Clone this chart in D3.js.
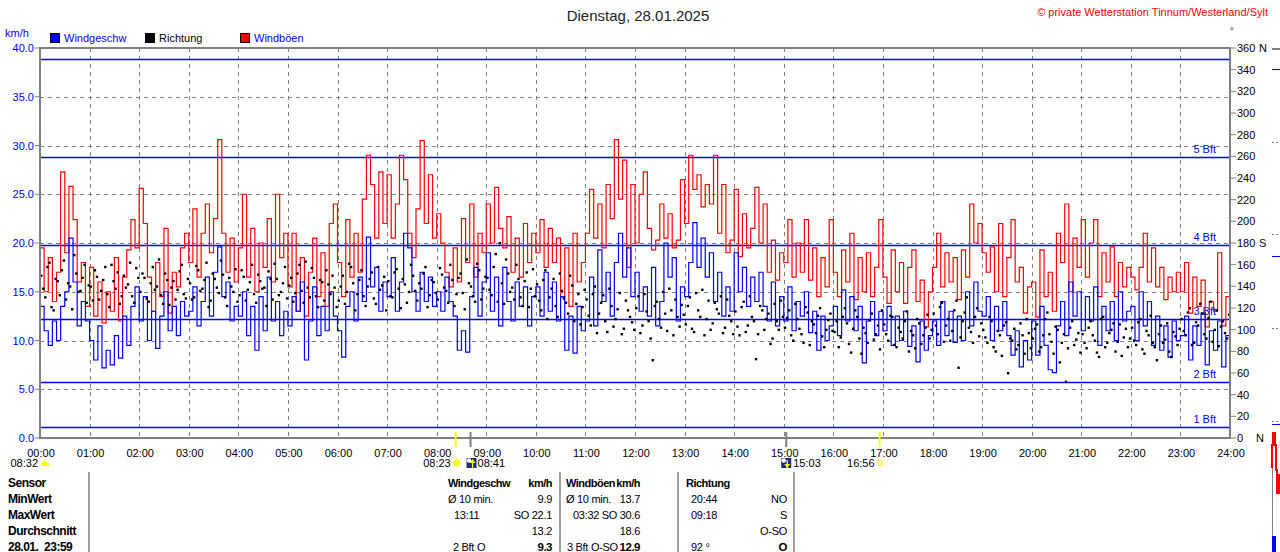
<!DOCTYPE html>
<html>
<head>
<meta charset="utf-8">
<title>Wind 28.01.2025</title>
<script src="https://cdn.jsdelivr.net/npm/d3@7"></script>
<style>
html, body { margin: 0; padding: 0; background: #fff; overflow: hidden; }
svg { display: block; font-family: "Liberation Sans", Arial, sans-serif; font-size: 11px; }
.tbl text { letter-spacing: -0.3px; }
.tbl text.b { letter-spacing: -0.5px; }
</style>
</head>
<body>
<div id="chart"></div>
<script>
// 5-minute samples, 00:00 .. 23:55 (12 per row = 1 hour)
const windSpeed = [
  13.5, 11.0, 9.5, 12.0, 10.0, 13.5, 15.0, 20.5, 16.0, 11.5, 14.0, 12.0,
  10.0, 8.0, 11.5, 7.2, 9.0, 7.5, 10.5, 8.2, 12.5, 9.5, 13.5, 15.5,
  12.0, 14.5, 10.0, 13.0, 9.2, 12.5, 15.0, 11.0, 13.5, 10.5, 14.0, 12.5,
  13.0, 15.5, 11.5, 14.0, 16.5, 12.5, 17.0, 19.6, 14.5, 16.0, 12.0, 13.5,
  12.5, 15.0, 10.5, 13.5, 9.0, 14.5, 11.0, 16.5, 12.0, 14.0, 10.5, 13.0,
  11.5, 14.5, 13.0, 16.0, 8.0, 12.0, 15.5, 10.5, 13.5, 11.0, 15.0, 12.5,
  11.0, 8.3, 13.5, 15.0, 12.0, 16.5, 14.0, 20.6, 15.5, 17.5, 13.0, 16.0,
  14.5, 18.5, 13.0, 16.0, 21.0, 19.5, 15.0, 13.0, 17.0, 14.0, 16.5, 13.5,
  15.0, 13.0, 16.5, 14.0, 12.5, 9.0, 11.0, 8.8, 14.5, 17.5, 12.5, 16.0,
  19.0, 13.0, 16.5, 11.5, 17.5, 14.0, 12.0, 16.0, 13.5, 15.5, 11.5, 14.5,
  15.5, 12.5, 17.0, 13.0, 16.0, 12.0, 14.5, 9.0, 12.5, 8.7, 13.5, 11.0,
  12.0, 16.5, 11.5, 19.3, 14.0, 17.0, 12.5, 18.0, 21.0, 16.5, 19.5, 14.5,
  17.0, 13.0, 15.5, 12.5, 17.5, 11.5, 14.0, 20.0, 16.5, 18.5, 12.0, 15.5,
  14.5, 18.0, 22.1, 17.5, 20.5, 16.5, 19.0, 14.0, 17.0, 12.5, 15.5, 13.0,
  19.0, 15.0, 17.5, 13.5, 16.5, 14.0, 17.0, 13.5, 12.0, 16.0, 11.5, 14.5,
  12.0, 15.5, 11.0, 14.0, 12.5, 15.0, 10.8, 13.0, 9.0, 12.5, 10.0, 11.5,
  13.5, 10.5, 15.2, 12.0, 14.5, 11.0, 13.5, 7.7, 12.0, 14.0, 10.5, 13.0,
  11.0, 13.5, 9.5, 12.5, 10.0, 13.0, 9.4, 11.5, 7.8, 12.0, 9.0, 10.5,
  12.0, 9.5, 14.0, 10.5, 13.0, 9.8, 12.5, 10.0, 15.0, 11.5, 16.0, 13.0,
  12.5, 14.5, 10.0, 13.5, 11.0, 14.0, 10.5, 8.5, 11.0, 7.3, 10.0, 8.0,
  12.0, 8.5, 13.5, 9.5, 7.0, 6.7, 11.5, 14.0, 10.5, 16.0, 12.5, 15.0,
  11.0, 14.5, 12.0, 15.5, 9.5, 13.5, 11.0, 14.0, 10.0, 15.0, 12.0, 13.0,
  13.5, 10.0, 15.0, 11.5, 14.0, 9.5, 12.5, 9.0, 11.5, 8.3, 12.0, 10.0,
  10.5, 12.5, 8.0, 11.5, 9.5, 12.8, 7.5, 11.0, 9.0, 12.0, 7.3, 10.5
];

const windGust = [
  19.5, 15.0, 18.5, 14.0, 17.0, 27.3, 19.0, 25.8, 22.4, 16.0, 18.0, 13.5,
  17.5, 12.5, 16.0, 11.8, 15.0, 13.0, 18.5, 12.0, 16.5, 19.3, 22.4, 19.5,
  25.6, 22.0, 16.5, 13.0, 18.0, 14.5, 21.5, 12.8, 17.0, 15.5, 19.5, 21.0,
  18.0, 23.5, 16.5, 21.0, 24.0, 19.0, 22.5, 30.6, 21.0, 17.0, 20.5, 16.0,
  19.5, 25.0, 16.5, 21.5, 15.0, 20.0, 17.5, 22.5, 16.0, 25.0, 18.5, 21.0,
  15.5, 21.0, 13.0, 18.5, 12.5, 17.0, 20.5, 14.5, 19.0, 13.5, 22.0, 24.0,
  18.0, 14.5, 22.4, 16.5, 21.0, 17.0, 24.5, 29.0, 26.0, 20.5, 27.3, 22.0,
  27.0, 20.5, 24.0, 29.0, 26.5, 21.0, 18.5, 23.5, 30.5, 22.0, 27.0, 20.5,
  23.0, 20.0, 17.0, 15.5, 19.5, 16.0, 22.5, 18.0, 24.0, 16.5, 21.0, 19.0,
  24.0, 20.0, 25.7, 21.5, 19.5, 22.7, 17.0, 20.5, 16.5, 22.0, 18.0, 21.0,
  19.0, 22.4, 17.5, 21.5, 18.0, 20.5, 14.5, 19.5, 13.5, 21.0, 16.0, 18.0,
  21.0, 25.5, 20.5, 24.0, 19.5, 26.0, 22.5, 30.6, 24.5, 28.5, 17.5, 26.0,
  20.0, 25.0, 27.3, 21.5, 19.3, 20.3, 24.0, 20.5, 23.0, 19.5, 20.3, 26.5,
  22.0, 29.0, 25.5, 27.0, 23.7, 26.0, 24.0, 29.0, 21.0, 26.0, 19.0, 20.3,
  25.5, 18.6, 23.0, 19.5, 21.5, 25.7, 20.0, 24.0, 17.0, 20.3, 16.2, 19.0,
  18.0, 22.4, 16.5, 20.0, 17.0, 22.4, 16.2, 19.5, 14.5, 18.5, 15.5, 22.4,
  17.0, 14.5, 19.3, 16.0, 21.0, 14.2, 18.5, 15.0, 19.0, 14.5, 17.5, 22.4,
  16.5, 13.8, 19.3, 15.0, 18.0, 13.8, 17.5, 19.3, 14.0, 16.2, 11.4, 15.0,
  17.5, 21.0, 15.5, 19.0, 16.0, 18.5, 14.2, 19.3, 16.5, 24.0, 20.0, 22.0,
  19.0, 17.0, 19.6, 15.0, 22.0, 14.5, 18.5, 22.4, 16.0, 17.5, 12.8, 15.5,
  16.0, 12.4, 19.3, 14.5, 17.0, 13.0, 21.0, 18.0, 24.0, 15.0, 20.5, 17.5,
  22.4, 16.5, 20.0, 22.4, 14.5, 19.0, 16.0, 19.6, 14.5, 18.0, 15.5, 17.5,
  16.5, 15.2, 17.5, 21.0, 16.0, 19.5, 15.5, 17.5, 14.2, 16.5, 15.0, 17.0,
  15.0, 18.0, 12.8, 16.5, 13.5, 16.2, 11.4, 14.0, 13.0, 19.0, 11.5, 14.5
];

// direction readings on the full 5 minutes ...
const windDir = [
  150, 130, 162, 118, 145, 155, 128, 140, 169, 135, 148, 125,
  140, 155, 128, 146, 133, 160, 138, 124, 150, 142, 131, 157,
  135, 148, 126, 158, 140, 132, 152, 123, 145, 137, 160, 129,
  143, 130, 155, 138, 162, 127, 147, 134, 151, 122, 140, 156,
  132, 149, 137, 160, 125, 145, 139, 154, 128, 147, 135, 158,
  141, 126, 152, 136, 163, 130, 148, 121, 144, 155, 133, 139,
  127, 150, 135, 158, 118, 146, 131, 140, 153, 124, 137, 149,
  145, 130, 156, 120, 142, 135, 150, 127, 138, 158, 132, 144,
  128, 151, 136, 160, 122, 148, 134, 165, 140, 126, 155, 138,
  148, 132, 170, 180, 124, 152, 139, 160, 130, 145, 121, 156,
  142, 118, 155, 130, 147, 112, 136, 125, 150, 108, 133, 121,
  128, 104, 140, 115, 132, 98, 122, 110, 134, 101, 118, 107,
  120, 97, 133, 108, 72, 126, 102, 115, 138, 95, 112, 123,
  105, 130, 98, 118, 137, 110, 100, 125, 115, 97, 128, 108,
  117, 95, 126, 104, 112, 73, 122, 100, 115, 92, 108, 127,
  102, 118, 90, 110, 96, 121, 86, 105, 113, 94, 100, 115,
  98, 84, 112, 106, 79, 118, 92, 102, 88, 115, 96, 82,
  105, 90, 112, 84, 98, 108, 80, 95, 110, 87, 102, 92,
  115, 96, 125, 104, 90, 118, 65, 108, 130, 98, 112, 94,
  100, 88, 108, 80, 95, 104, 60, 90, 82, 106, 78, 97,
  92, 105, 84, 110, 96, 78, 100, 88, 52, 102, 86, 97,
  96, 83, 108, 90, 75, 112, 88, 100, 80, 105, 93, 84,
  102, 86, 110, 78, 95, 88, 72, 104, 91, 80, 98, 86,
  110, 95, 120, 88, 104, 115, 92, 126, 100, 85, 108, 92
];

// ... and the ones in between (xx:02:30, xx:07:30, ...)
const windDirMid = [
  138, 158, 121, 147, 132, 164, 143, 119, 152, 136, 160, 141,
  127, 149, 136, 158, 121, 145, 153, 131, 139, 162, 125, 148,
  152, 129, 143, 137, 165, 124, 146, 139, 128, 154, 133, 147,
  128, 159, 136, 146, 121, 152, 139, 164, 130, 148, 135, 126,
  155, 127, 144, 133, 151, 138, 122, 147, 161, 132, 143, 129,
  148, 134, 160, 125, 139, 157, 131, 146, 127, 142, 150, 121,
  140, 124, 161, 143, 133, 155, 122, 147, 129, 158, 141, 118,
  131, 153, 138, 147, 125, 160, 136, 143, 152, 121, 146, 134,
  157, 139, 125, 146, 133, 152, 119, 143, 131, 161, 128, 149,
  137, 158, 126, 143, 165, 135, 128, 147, 122, 153, 138, 131,
  127, 146, 110, 138, 122, 152, 129, 115, 141, 124, 105, 137,
  113, 133, 97, 125, 108, 138, 103, 119, 96, 127, 112, 100,
  131, 104, 117, 92, 122, 110, 135, 99, 118, 128, 103, 114,
  122, 101, 134, 112, 95, 127, 106, 119, 131, 102, 113, 96,
  103, 121, 98, 131, 108, 96, 118, 110, 87, 124, 100, 112,
  111, 95, 124, 101, 88, 116, 108, 97, 120, 84, 109, 99,
  108, 93, 120, 87, 101, 112, 78, 97, 109, 91, 104, 118,
  96, 113, 86, 102, 92, 117, 99, 83, 106, 95, 114, 100,
  104, 121, 89, 110, 99, 127, 93, 116, 102, 88, 120, 106,
  93, 112, 84, 99, 76, 107, 92, 101, 86, 95, 110, 83,
  101, 80, 95, 116, 89, 103, 70, 96, 83, 108, 91, 79,
  88, 102, 95, 79, 110, 84, 97, 106, 89, 76, 101, 92,
  90, 107, 82, 99, 113, 84, 96, 88, 106, 75, 94, 101,
  99, 116, 86, 107, 124, 96, 111, 89, 118, 103, 97, 114
];

const hourLabels = d3.range(0, 25).map(h => String(h).padStart(2, "0") + ":00");
const speedTicks = [0, 5, 10, 15, 20, 25, 30, 35, 40];
const dirTicks = d3.range(0, 361, 20);
const compassMarks = [{ deg: 0, name: "N" }, { deg: 180, name: "S" }, { deg: 360, name: "N" }];

// Beaufort lower limits in km/h
const bftLimits = [1.08, 5.76, 12.24, 19.8, 28.8, 38.88];
const bftLabels = ["1 Bft", "2 Bft", "3 Bft", "4 Bft", "5 Bft", ""];

const astroEvents = [
  { time: "08:23", kind: "sunrise" },
  { time: "08:41", kind: "moonrise" },
  { time: "15:03", kind: "moonset" },
  { time: "16:56", kind: "sunset" }
];

const tableRowLabels = ["Sensor", "MinWert", "MaxWert", "Durchschnitt", "28.01.\u00a0 23:59"];
const tableSpeed = [["Windgeschw", "km/h"], ["Ø 10 min.", "9.9"], ["13:11", "SO 22.1"], ["", "13.2"], ["2 Bft O", "9.3"]];
const tableGust = [["Windböen", "km/h"], ["Ø 10 min.", "13.7"], ["03:32", "SO 30.6"], ["", "18.6"], ["3 Bft O-SO", "12.9"]];
const tableDir = [["Richtung", ""], ["20:44", "NO"], ["09:18", "S"], ["", "O-SO"], ["92 °", "O"]];

const W = 1280, H = 552;
const plot = { left: 40, right: 1230, top: 48, bottom: 438 };
const BLUE = "#0000ff", RED = "#ff0000", GRAY = "#808080";

const toMin = s => { const [h, m] = s.split(":").map(Number); return h * 60 + m; };

const x = d3.scaleLinear().domain([0, 1440]).range([plot.left, plot.right]);
const y = d3.scaleLinear().domain([0, 40]).range([plot.bottom, plot.top]);
const yDir = d3.scaleLinear().domain([0, 360]).range([plot.bottom, plot.top]);

const svg = d3.select("#chart").append("svg").attr("width", W).attr("height", H);

// title + copyright
svg.append("text").attr("x", 638).attr("y", 21).attr("text-anchor", "middle")
  .attr("font-size", 15).attr("fill", "#222").text("Dienstag, 28.01.2025");
svg.append("text").attr("x", 1268).attr("y", 16).attr("text-anchor", "end")
  .attr("fill", RED).text("© private Wetterstation Tinnum/Westerland/Sylt");

// unit + legend
svg.append("text").attr("x", 5).attr("y", 37).attr("fill", BLUE).text("km/h");
svg.append("text").attr("x", 1230).attr("y", 34).attr("font-size", 9).text("°");
const legend = [
  { name: "Windgeschw", color: BLUE, text: BLUE },
  { name: "Richtung", color: "#000", text: "#000" },
  { name: "Windböen", color: RED, text: BLUE }
];
const lg = svg.append("g").selectAll("g").data(legend).join("g")
  .attr("transform", (d, i) => `translate(${50 + i * 95},33)`);
lg.append("rect").attr("x", 0.5).attr("y", 0.5).attr("width", 9).attr("height", 9)
  .attr("fill", d => d.color).attr("stroke", "#000");
lg.append("text").attr("x", 14).attr("y", 9).attr("fill", d => d.text).text(d => d.name);

// grid
const grid = svg.append("g").attr("stroke", GRAY).attr("stroke-dasharray", "4,4").attr("shape-rendering", "crispEdges");
grid.selectAll("line.v").data(d3.range(1, 24)).join("line").attr("class", "v")
  .attr("x1", h => Math.round(x(h * 60)) + 0.5).attr("x2", h => Math.round(x(h * 60)) + 0.5)
  .attr("y1", plot.top).attr("y2", plot.bottom);
grid.selectAll("line.h").data(speedTicks.slice(1, -1)).join("line").attr("class", "h")
  .attr("y1", v => Math.round(y(v)) + 0.5).attr("y2", v => Math.round(y(v)) + 0.5)
  .attr("x1", plot.left).attr("x2", plot.right);

// beaufort lines + labels
const bft = svg.append("g");
bft.selectAll("line").data(bftLimits).join("line")
  .attr("x1", plot.left).attr("x2", plot.right)
  .attr("y1", v => Math.round(y(v)) + 0.5).attr("y2", v => Math.round(y(v)) + 0.5)
  .style("stroke", BLUE).style("stroke-width", "1.3px");
bft.selectAll("text").data(bftLimits).join("text")
  .attr("x", 1216).attr("y", v => y(v) - 4).attr("text-anchor", "end")
  .attr("fill", BLUE).text((v, i) => bftLabels[i]);

// series
const stepPts = arr => arr.map((v, i) => [i * 5, v]).concat([[1440, arr[arr.length - 1]]]);
const line = d3.line().x(d => x(d[0])).y(d => y(d[1])).curve(d3.curveStepAfter);
svg.append("path").datum(stepPts(windGust)).attr("d", line)
  .attr("fill", "none").attr("stroke", RED).attr("stroke-width", 1.2);
svg.append("path").datum(stepPts(windSpeed)).attr("d", line)
  .attr("fill", "none").attr("stroke", BLUE).attr("stroke-width", 1.2);
const dirPts = windDir.map((d, i) => [i * 5, d]).concat(windDirMid.map((d, i) => [i * 5 + 2.5, d]));
svg.append("g").selectAll("rect").data(dirPts).join("rect")
  .attr("x", d => x(d[0] + 1.25) - 1).attr("y", d => yDir(d[1]) - 1)
  .attr("width", 2.4).attr("height", 2.4).attr("fill", "#000");

// frame
svg.append("rect").attr("x", plot.left).attr("y", plot.top)
  .attr("width", plot.right - plot.left).attr("height", plot.bottom - plot.top)
  .attr("fill", "none").attr("stroke", GRAY).attr("stroke-width", 2);

// left axis
const la = svg.append("g");
la.selectAll("line").data(speedTicks).join("line")
  .attr("x1", 35).attr("x2", plot.left).attr("y1", v => y(v)).attr("y2", v => y(v)).attr("stroke", GRAY);
la.selectAll("text").data(speedTicks).join("text")
  .attr("x", 34).attr("y", v => y(v) + 4).attr("text-anchor", "end").attr("fill", BLUE)
  .text(d3.format(".1f"));

// right axis
const ra = svg.append("g");
ra.selectAll("line").data(dirTicks).join("line")
  .attr("x1", plot.right).attr("x2", plot.right + 6).attr("y1", d => yDir(d)).attr("y2", d => yDir(d)).attr("stroke", GRAY);
ra.selectAll("text.v").data(dirTicks).join("text").attr("class", "v")
  .attr("x", plot.right + 7).attr("y", d => yDir(d) + 4).text(d => d);
ra.selectAll("text.c").data(compassMarks).join("text").attr("class", "c")
  .attr("x", d => d.deg === 0 ? 1256 : 1259).attr("y", d => yDir(d.deg) + 4).text(d => d.name);

// bottom axis labels
svg.append("g").selectAll("text").data(hourLabels).join("text")
  .attr("x", (d, i) => x(i * 60) + 1).attr("y", 457).attr("text-anchor", "middle").text(d => d);

// astro markers on axis
const astro = svg.append("g");
astro.selectAll("line").data(astroEvents).join("line")
  .attr("x1", d => x(toMin(d.time))).attr("x2", d => x(toMin(d.time)))
  .attr("y1", 432).attr("y2", 447).attr("stroke-width", 2)
  .attr("stroke", d => d.kind.startsWith("sun") ? "#ffff00" : GRAY);

function sunIcon(g, cx, cy) {
  g.append("circle").attr("cx", cx).attr("cy", cy).attr("r", 3.2).attr("fill", "#ffff00");
  d3.range(8).forEach(k => {
    const a = k * Math.PI / 4;
    g.append("line").attr("x1", cx + Math.cos(a) * 4).attr("y1", cy + Math.sin(a) * 4)
      .attr("x2", cx + Math.cos(a) * 5.5).attr("y2", cy + Math.sin(a) * 5.5)
      .attr("stroke", "#ffff00").attr("stroke-width", 1);
  });
}
function moonIcon(g, x0, up) {
  g.append("rect").attr("x", x0).attr("y", 458).attr("width", 10).attr("height", 10).attr("fill", "#1c2a80");
  g.append("circle").attr("cx", x0 + 2.5).attr("cy", 460.5).attr("r", 2.3).attr("fill", "#fff");
  const ax = x0 + 6;
  g.append("line").attr("x1", ax).attr("x2", ax).attr("y1", 460).attr("y2", 468).attr("stroke", "#ffff00").attr("stroke-width", 1.3);
  g.append("path").attr("fill", "#ffff00")
    .attr("d", up ? `M${ax - 3},${463}L${ax},${459}L${ax + 3},${463}Z` : `M${ax - 3},${464}L${ax},${468}L${ax + 3},${464}Z`);
}

astroEvents.forEach(d => {
  const px = x(toMin(d.time));
  if (d.kind === "sunrise") {
    sunIcon(astro, px + 1, 463);
    astro.append("text").attr("x", px - 5).attr("y", 467).attr("text-anchor", "end").text(d.time);
  } else if (d.kind === "moonrise") {
    moonIcon(astro, px - 4, true);
    astro.append("text").attr("x", px + 7).attr("y", 467).text(d.time);
  } else if (d.kind === "moonset") {
    moonIcon(astro, px - 5, false);
    astro.append("text").attr("x", px + 7).attr("y", 467).text(d.time);
  } else {
    astro.append("rect").attr("x", px - 1.5).attr("y", 460.5).attr("width", 4).attr("height", 5)
      .attr("fill", "none").attr("stroke", "#ffff00");
    astro.append("text").attr("x", px - 5).attr("y", 467).attr("text-anchor", "end").text(d.time);
  }
});
// moon phase at left
astro.append("text").attr("x", 38).attr("y", 467).attr("text-anchor", "end").text("08:32");
astro.append("path").attr("d", "M41,466 A4,5 0 0 1 49,466 Z").attr("fill", "#ffff00");

// table
const tb = svg.append("g").attr("class", "tbl");
const rowY = i => 487 + i * 16;
[89, 560, 678, 794].forEach(sx => {
  tb.append("line").attr("x1", sx).attr("x2", sx).attr("y1", 472).attr("y2", H).attr("stroke", GRAY).attr("stroke-width", 1.5);
});
tableRowLabels.forEach((t, i) => {
  tb.append("text").attr("class", "b").attr("x", 8).attr("y", rowY(i))
    .attr("font-weight", "bold").attr("font-size", 12).text(t);
});
function tableCol(rows, leftX, rightX, leftXs) {
  rows.forEach((r, i) => {
    const head = i === 0, last = i === rows.length - 1;
    tb.append("text").attr("class", head ? "b" : null)
      .attr("x", head ? leftX : (leftXs[i] || leftX)).attr("y", rowY(i))
      .attr("font-weight", head ? "bold" : null).attr("font-size", head ? 11 : 11).text(r[0]);
    tb.append("text").attr("class", head || last ? "b" : null)
      .attr("x", rightX).attr("y", rowY(i)).attr("text-anchor", "end")
      .attr("font-weight", head || last ? "bold" : null).attr("font-size", head ? 11 : (last ? 11.5 : 11)).text(r[1]);
  });
}
tableCol(tableSpeed, 448, 552, [448, 448, 454, 454, 453]);
tableCol(tableGust, 566, 640, [566, 566, 573, 573, 567]);
tableCol(tableDir, 686, 787, [686, 691, 691, 691, 691]);

// partial next panel cut at the right edge
const stub = svg.append("g").attr("shape-rendering", "crispEdges");
[48, 142, 234, 328, 421].forEach((sy, i) => {
  stub.append("line").attr("x1", 1272).attr("x2", 1280).attr("y1", sy + 0.5).attr("y2", sy + 0.5)
    .attr("stroke", GRAY).attr("stroke-width", i === 0 ? 2 : 1).attr("stroke-dasharray", i === 0 ? null : "2,2");
});
[69, 256, 424].forEach(sy => {
  stub.append("line").attr("x1", 1272).attr("x2", 1280).attr("y1", sy + 0.5).attr("y2", sy + 0.5).attr("stroke", BLUE);
});
stub.append("line").attr("x1", 1272.5).attr("x2", 1272.5).attr("y1", 463).attr("y2", H).attr("stroke", GRAY).attr("stroke-width", 1.5);
stub.append("path").attr("fill", "none").attr("stroke", RED).attr("stroke-width", 1.2)
  .attr("d", "M1272,468V445H1273V433H1275V445H1276V470H1277V493H1279V475H1280");
stub.append("path").attr("fill", "none").attr("stroke", BLUE).attr("stroke-width", 1.2)
  .attr("d", "M1273,552V537H1275V552");
</script>
</body>
</html>
